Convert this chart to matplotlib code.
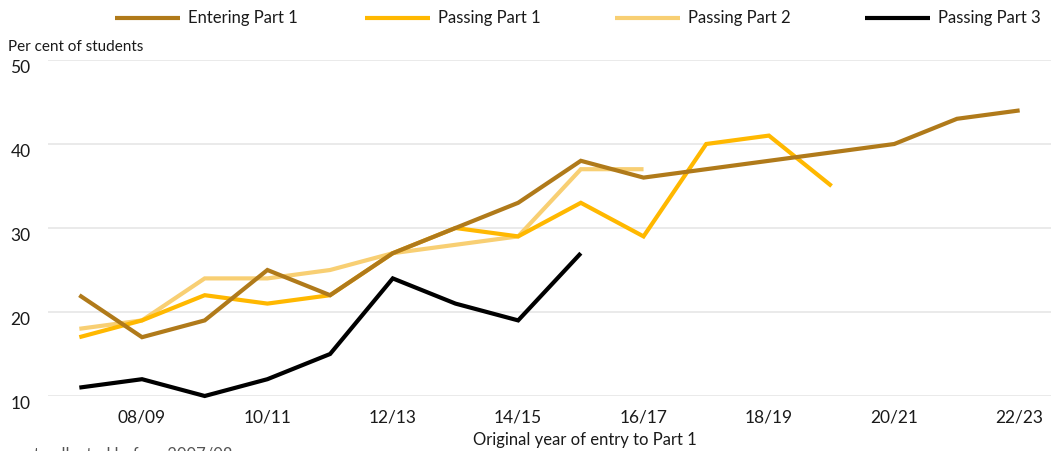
import matplotlib
matplotlib.use("Agg")
import matplotlib.pyplot as plt
from matplotlib.lines import Line2D

plt.rcParams['font.family'] = ['Lato', 'DejaVu Sans']

years = ["07/08", "08/09", "09/10", "10/11", "11/12", "12/13", "13/14", "14/15",
         "15/16", "16/17", "17/18", "18/19", "19/20", "20/21", "21/22", "22/23"]
entering_p1 = [22, 17, 19, 25, 22, 27, 30, 33, 38, 36, 37, 38, 39, 40, 43, 44]
passing_p1 = [17, 19, 22, 21, 22, 27, 30, 29, 33, 29, 40, 41, 35]
passing_p2 = [18, 19, 24, 24, 25, 27, 28, 29, 37, 37]
passing_p3 = [11, 12, 10, 12, 15, 24, 21, 19, 27]

series = [
    ("Entering Part 1", entering_p1, "#B07A1A"),
    ("Passing Part 1", passing_p1, "#FFB800"),
    ("Passing Part 2", passing_p2, "#F8CF73"),
    ("Passing Part 3", passing_p3, "#000000"),
]
yticks = [10, 20, 30, 40, 50]

W, H = 1051, 451
fig = plt.figure(figsize=(W / 100, H / 100), dpi=100)
ax = fig.add_axes([48 / W, 1 - 396 / H, 1 - 48 / W, (396 - 60) / H])

x = list(range(len(years)))
order = [2, 1, 0, 3]
for i in order:
    name, vals, col = series[i]
    ax.plot(x[:len(vals)], vals, color=col, lw=3, solid_joinstyle='miter',
            solid_capstyle='butt', clip_on=False, zorder=3)

ax.set_xlim(-0.5, 15.5)
ax.set_ylim(10, 50)
ax.set_yticks(yticks)
ax.set_yticklabels([str(v) for v in yticks])
ax.set_xticks(x[1::2])
ax.set_xticklabels(years[1::2])
ax.grid(axis='y', color='#E6E6E6', lw=1.2)
ax.set_axisbelow(True)
for s in ax.spines.values():
    s.set_visible(False)
ax.tick_params(axis='both', length=0, labelsize=12.5, colors='#1a1a1a')
ax.tick_params(axis='x', pad=10)
for lab in ax.get_yticklabels():
    lab.set_horizontalalignment('left')
    lab.set_verticalalignment('top')
ax.tick_params(axis='y', pad=27)

fig.text(8 / W, 1 - 47 / H, "Per cent of students", fontsize=11, va='center', ha='left', color='#1a1a1a')
fig.text(585 / W, 1 - 440 / H, "Original year of entry to Part 1", fontsize=12,
         va='center', ha='center', color='#1a1a1a')
fig.text(232 / W, 1 - 446 / H, "Data not collected before 2007/08", fontsize=12,
         va='top', ha='right', color='#555555')

for k, (name, vals, col) in enumerate(series):
    x0 = 115 + 250 * k
    yl = 1 - 18 / H
    fig.add_artist(Line2D([x0 / W, (x0 + 65) / W], [yl, yl], color=col, lw=3,
                          transform=fig.transFigure, solid_capstyle='butt'))
    fig.text((x0 + 73) / W, yl, name, fontsize=12, va='center', ha='left', color='#1a1a1a')

fig.savefig("out.png", dpi=100)
